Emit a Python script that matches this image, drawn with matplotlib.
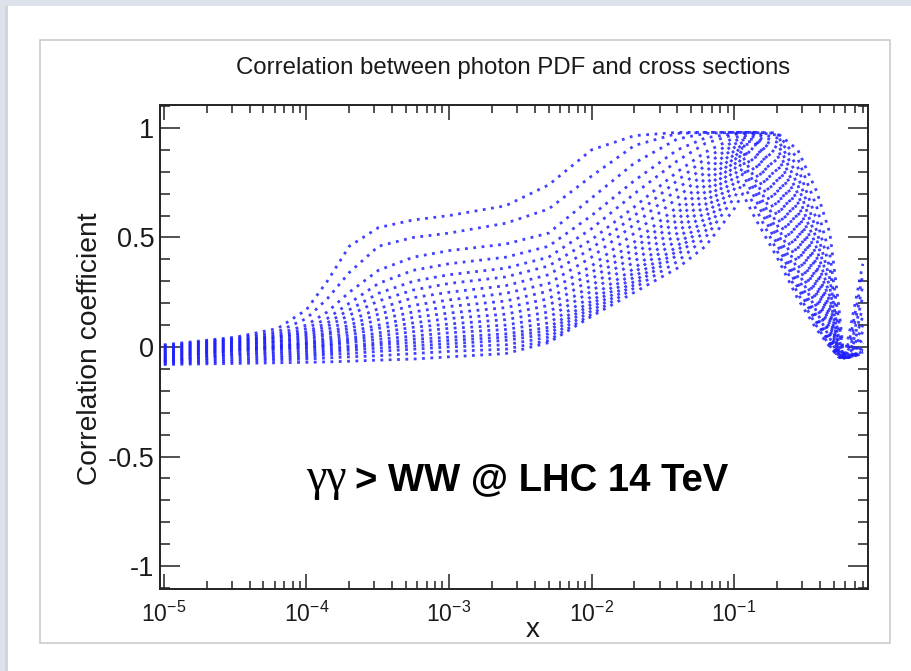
import matplotlib
matplotlib.use("Agg")
import matplotlib.pyplot as plt
from matplotlib.patches import Rectangle
from matplotlib.ticker import LogLocator, FuncFormatter, MultipleLocator, NullFormatter

plt.rcParams["font.family"] = ["Liberation Sans", "DejaVu Sans"]
plt.rcParams["mathtext.fontset"] = "custom"
plt.rcParams["mathtext.rm"] = "Liberation Sans"
plt.rcParams["mathtext.it"] = "Liberation Sans:italic"
plt.rcParams["mathtext.bf"] = "Liberation Sans:bold"
plt.rcParams["axes.unicode_minus"] = False

# photon momentum fraction x at which the correlation is evaluated
x_grid = [1e-5, 3.2e-5, 6.3e-5, 1e-4, 1.4e-4, 2e-4, 3.2e-4, 5.6e-4, 1e-3, 2.5e-3,
          5e-3, 1e-2, 2e-2, 4e-2, 6.3e-2, 0.1, 0.115, 0.14, 0.2, 0.28,
          0.38, 0.47, 0.54, 0.59, 0.66, 0.8]

# correlation coefficient, one row per cross-section bin
corr_curves = [
    [0.01, 0.045, 0.085, 0.17, 0.30, 0.46, 0.545, 0.58, 0.60, 0.645,
     0.74, 0.90, 0.965, 0.98, 0.98, 0.98, 0.98,
     0.98, 0.978, 0.90, 0.71, 0.52, 0.20, -0.05, 0.10, 0.38],
    [0.005, 0.04, 0.07, 0.13, 0.22, 0.34, 0.46, 0.50, 0.52, 0.565,
     0.63, 0.78, 0.92, 0.975, 0.98, 0.98, 0.98,
     0.98, 0.975, 0.86, 0.64, 0.42, 0.13, -0.05, 0.06, 0.33],
    [0.0, 0.035, 0.06, 0.10, 0.16, 0.25, 0.35, 0.41, 0.44, 0.47,
     0.52, 0.68, 0.84, 0.95, 0.975, 0.98, 0.98,
     0.98, 0.968, 0.82, 0.58, 0.36, 0.08, -0.05, 0.03, 0.28],
    [-0.005, 0.03, 0.05, 0.085, 0.13, 0.20, 0.29, 0.35, 0.38, 0.41,
     0.46, 0.60, 0.76, 0.90, 0.955, 0.975, 0.978,
     0.978, 0.955, 0.78, 0.53, 0.31, 0.05, -0.05, 0.01, 0.23],
    [-0.01, 0.025, 0.045, 0.07, 0.11, 0.17, 0.245, 0.30, 0.33, 0.36,
     0.41, 0.54, 0.70, 0.85, 0.93, 0.97, 0.975,
     0.975, 0.935, 0.74, 0.49, 0.27, 0.03, -0.05, -0.01, 0.18],
    [-0.015, 0.02, 0.04, 0.06, 0.095, 0.145, 0.21, 0.26, 0.29, 0.32,
     0.37, 0.49, 0.64, 0.80, 0.89, 0.955, 0.965,
     0.968, 0.91, 0.70, 0.45, 0.23, 0.01, -0.05, -0.02, 0.14],
    [-0.02, 0.015, 0.03, 0.05, 0.08, 0.12, 0.175, 0.225, 0.25, 0.28,
     0.33, 0.45, 0.60, 0.76, 0.86, 0.94, 0.955,
     0.96, 0.88, 0.66, 0.41, 0.20, 0.0, -0.05, -0.03, 0.10],
    [-0.025, 0.01, 0.025, 0.04, 0.065, 0.10, 0.15, 0.19, 0.215, 0.245,
     0.29, 0.41, 0.56, 0.72, 0.83, 0.925, 0.945,
     0.95, 0.84, 0.62, 0.37, 0.17, -0.01, -0.05, -0.035, 0.07],
    [-0.03, 0.005, 0.02, 0.03, 0.055, 0.085, 0.125, 0.16, 0.185, 0.21,
     0.255, 0.37, 0.52, 0.68, 0.80, 0.91, 0.935,
     0.94, 0.80, 0.58, 0.34, 0.14, -0.02, -0.05, -0.04, 0.04],
    [-0.035, 0.0, 0.01, 0.02, 0.04, 0.07, 0.10, 0.135, 0.155, 0.18,
     0.22, 0.34, 0.48, 0.64, 0.77, 0.895, 0.925,
     0.925, 0.76, 0.54, 0.30, 0.12, -0.025, -0.05, -0.04, 0.02],
    [-0.04, -0.005, 0.005, 0.015, 0.03, 0.055, 0.085, 0.11, 0.13, 0.15,
     0.19, 0.31, 0.45, 0.61, 0.74, 0.88, 0.92,
     0.90, 0.72, 0.50, 0.27, 0.10, -0.03, -0.05, -0.045, 0.0],
    [-0.045, -0.01, 0.0, 0.01, 0.02, 0.04, 0.065, 0.09, 0.105, 0.125,
     0.16, 0.28, 0.42, 0.58, 0.71, 0.865, 0.91,
     0.87, 0.68, 0.46, 0.24, 0.08, -0.035, -0.05, -0.045, -0.01],
    [-0.05, -0.015, -0.005, 0.0, 0.01, 0.03, 0.05, 0.07, 0.085, 0.10,
     0.135, 0.255, 0.39, 0.55, 0.68, 0.85, 0.90,
     0.84, 0.64, 0.42, 0.21, 0.06, -0.04, -0.05, -0.045, -0.02],
    [-0.055, -0.02, -0.01, -0.005, 0.005, 0.02, 0.035, 0.05, 0.065, 0.08,
     0.11, 0.23, 0.36, 0.52, 0.65, 0.83, 0.89,
     0.80, 0.60, 0.38, 0.18, 0.05, -0.04, -0.05, -0.045, -0.02],
    [-0.06, -0.03, -0.02, -0.015, -0.005, 0.005, 0.02, 0.035, 0.045, 0.06,
     0.09, 0.21, 0.34, 0.49, 0.62, 0.81, 0.87,
     0.77, 0.56, 0.35, 0.16, 0.04, -0.04, -0.05, -0.045, -0.02],
    [-0.063, -0.035, -0.03, -0.025, -0.015, -0.005, 0.01, 0.02, 0.03, 0.045,
     0.075, 0.195, 0.32, 0.46, 0.59, 0.78, 0.85,
     0.74, 0.53, 0.32, 0.14, 0.03, -0.045, -0.05, -0.045, -0.02],
    [-0.066, -0.045, -0.04, -0.035, -0.025, -0.015, -0.005, 0.005, 0.015, 0.03,
     0.06, 0.18, 0.30, 0.44, 0.56, 0.75, 0.82,
     0.71, 0.50, 0.29, 0.125, 0.02, -0.045, -0.05, -0.045, -0.025],
    [-0.07, -0.055, -0.05, -0.045, -0.035, -0.03, -0.02, -0.01, 0.0, 0.01,
     0.045, 0.165, 0.285, 0.42, 0.53, 0.72, 0.79,
     0.68, 0.47, 0.27, 0.11, 0.015, -0.045, -0.05, -0.045, -0.025],
    [-0.075, -0.065, -0.06, -0.055, -0.05, -0.045, -0.04, -0.03, -0.02, -0.01,
     0.03, 0.15, 0.27, 0.39, 0.50, 0.68, 0.75,
     0.64, 0.44, 0.245, 0.095, 0.005, -0.045, -0.05, -0.045, -0.03],
    [-0.08, -0.075, -0.072, -0.07, -0.068, -0.065, -0.06, -0.055, -0.045, -0.03,
     0.02, 0.14, 0.25, 0.36, 0.46, 0.63, 0.70,
     0.59, 0.41, 0.22, 0.08, 0.0, -0.045, -0.05, -0.045, -0.03],
]

y_ticks = [-1, -0.5, 0, 0.5, 1]

W, H = 912, 671
fig = plt.figure(figsize=(W / 100, H / 100), dpi=100)
fig.patch.set_facecolor("#dde2ea")

# page card and the framed canvas on it, kept behind the axes
for rect in (
    Rectangle((5 / W, 0), 3 / W, 1 - 6 / H, facecolor="#cfd5de", edgecolor="none"),
    Rectangle((8 / W, 0), 1 - 8 / W, 1 - 6 / H, facecolor="white", edgecolor="none"),
    Rectangle((40 / W, (H - 643) / H), 850 / W, 603 / H, facecolor="white",
              edgecolor="#cccccc", linewidth=1.2),
):
    rect.set_transform(fig.transFigure)
    rect.set_zorder(-5)
    fig.add_artist(rect)

ax = fig.add_axes([160 / W, (H - 589) / H, 708 / W, 484 / H])
ax.set_facecolor("white")

for row in corr_curves:
    ax.plot(x_grid, row, color="#1f1fff", linewidth=2.0,
            linestyle=(0, (1.0, 2.0)), alpha=0.85)

ax.set_xscale("log")
ax.set_xlim(9.4e-6, 0.87)
ax.set_ylim(-1.105, 1.105)

ax.xaxis.set_major_locator(LogLocator(base=10, numticks=10))
ax.xaxis.set_minor_locator(LogLocator(base=10, subs=range(2, 10), numticks=20))
ax.xaxis.set_minor_formatter(NullFormatter())
ax.set_yticks(y_ticks)
ax.yaxis.set_minor_locator(MultipleLocator(0.1))
ax.yaxis.set_major_formatter(FuncFormatter(lambda v, _: f"{v:g}"))

frame_col = "#222222"
for sp in ax.spines.values():
    sp.set_linewidth(1.4)
    sp.set_color(frame_col)

ax.tick_params(which="both", direction="in", top=True, right=True,
               color=frame_col, width=1.1, labelcolor="#1a1a1a")
ax.tick_params(axis="x", which="major", length=10.8, labelsize=16.5, pad=9)
ax.tick_params(axis="x", which="minor", length=5.8)
ax.tick_params(axis="y", which="major", length=14.4, labelsize=19.5, pad=4)
ax.tick_params(axis="y", which="minor", length=7.2)

fig.text(513 / W, 1 - 68 / H, "Correlation between photon PDF and cross sections",
         ha="center", va="center", fontsize=17.3, color="#1a1a1a")
fig.text(90 / W, 1 - 349 / H, "Correlation coefficient", rotation=90,
         ha="center", va="center", fontsize=20.3, color="#1a1a1a")
fig.text(533 / W, 1 - 630 / H, "x", ha="center", va="center",
         fontsize=20, color="#1a1a1a")

# process label: greek part in a serif face, the rest in bold sans
ax.text(0.207, 0.2045, "γγ", transform=ax.transAxes, ha="left", va="baseline",
        fontsize=33, family=["Liberation Serif", "DejaVu Serif"], color="black")
ax.text(0.276, 0.2045, "> WW @ LHC 14 TeV", transform=ax.transAxes, ha="left",
        va="baseline", fontsize=27.5, fontweight="bold", color="black")

fig.savefig("out.png", dpi=100, facecolor=fig.get_facecolor())
